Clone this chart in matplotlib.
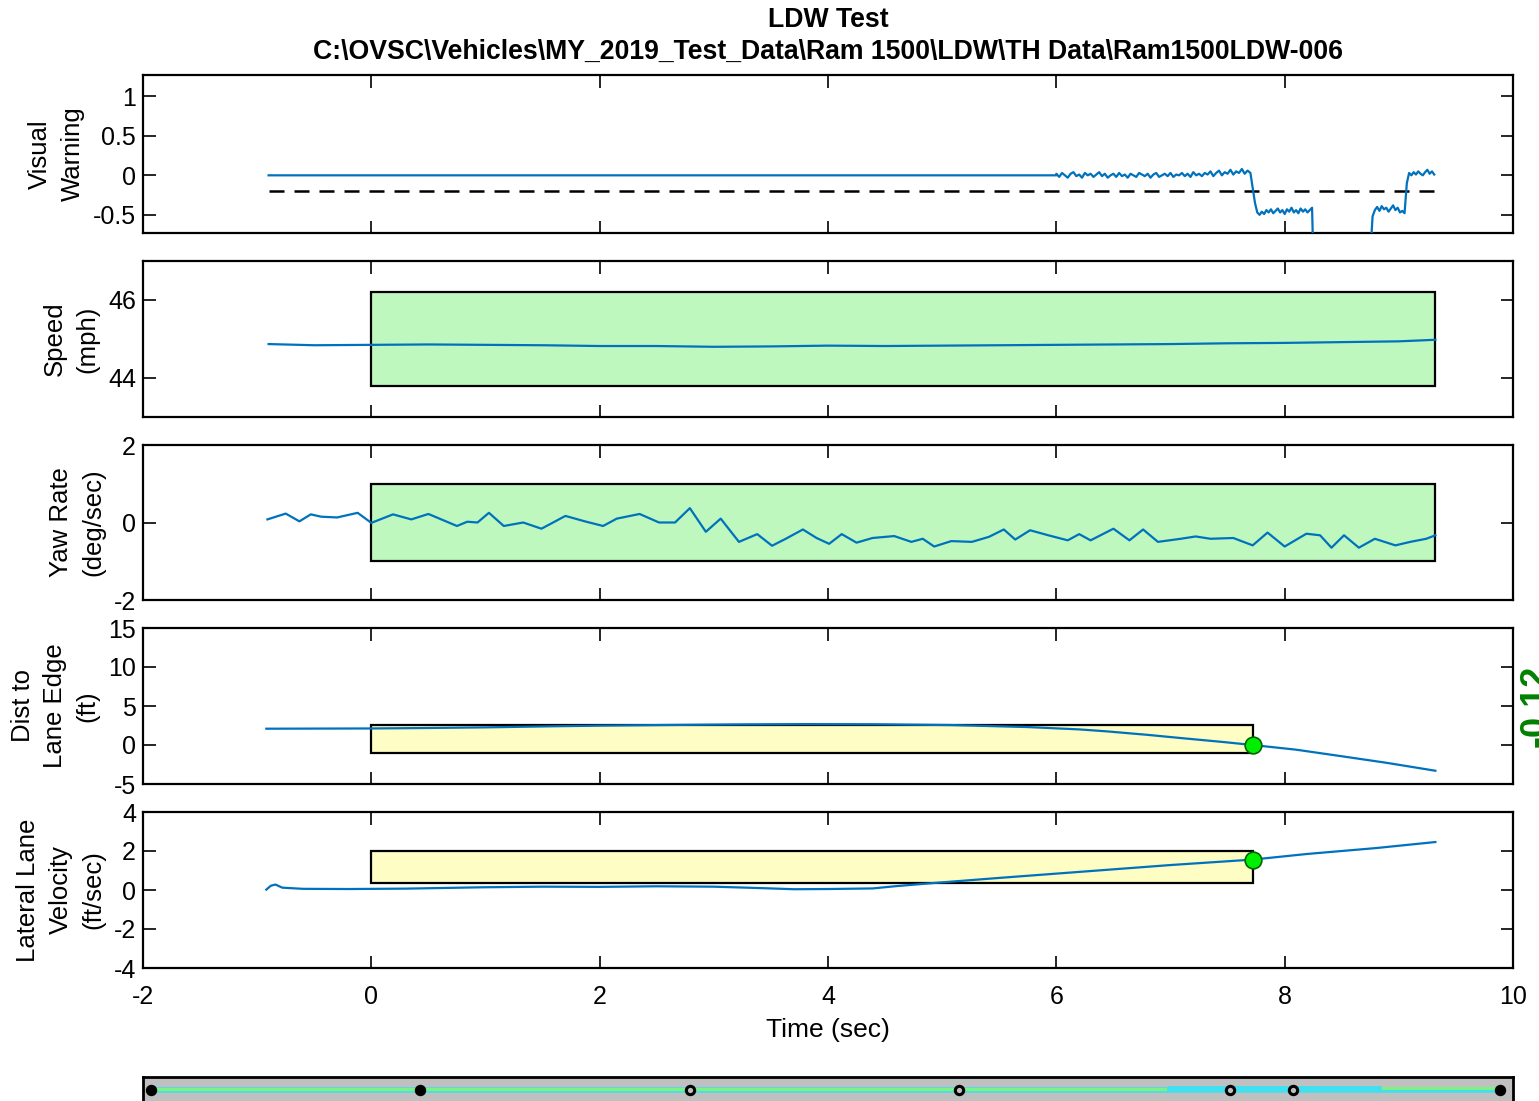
import matplotlib
matplotlib.use("Agg")
import matplotlib.pyplot as plt
from matplotlib.patches import Rectangle

plt.rcParams["font.family"] = ["Liberation Sans", "DejaVu Sans"]

# ---- data ----
title_lines = ["LDW Test",
               "C:\\OVSC\\Vehicles\\MY_2019_Test_Data\\Ram 1500\\LDW\\TH Data\\Ram1500LDW-006"]

# visual warning: flat, then noisy around 0, steps down after the crossing
vw_flat_t = [-0.9, 6.0]
vw_flat_v = [0.0, 0.0]
vw_noise_t = [6.0, 6.025, 6.05, 6.075, 6.1, 6.125, 6.15, 6.175, 6.2, 6.225,
              6.25, 6.275, 6.3, 6.325, 6.35, 6.375, 6.4, 6.425, 6.45, 6.475,
              6.5, 6.525, 6.55, 6.575, 6.6, 6.625, 6.65, 6.675, 6.7, 6.725,
              6.75, 6.775, 6.8, 6.825, 6.85, 6.875, 6.9, 6.925, 6.95, 6.975,
              7.0, 7.025, 7.05, 7.075, 7.1, 7.125, 7.15, 7.175, 7.2, 7.225,
              7.25, 7.275, 7.3, 7.325, 7.35, 7.375, 7.4, 7.425, 7.45, 7.475,
              7.5, 7.525, 7.55, 7.575, 7.6, 7.625, 7.65, 7.675, 7.7]
vw_noise_v = [0.02, -0.02, 0.03, 0.0, -0.03, 0.02, 0.04, -0.01, 0.01, -0.03,
              0.03, 0.0, 0.02, -0.02, 0.01, 0.04, -0.01, 0.02, -0.03, 0.0,
              0.02, -0.02, 0.03, -0.01, 0.01, -0.03, 0.02, 0.0, -0.02, 0.03,
              0.01, -0.01, 0.02, -0.03, 0.01, 0.03, -0.02, 0.0, 0.02, -0.01,
              0.03, -0.02, 0.01, 0.0, 0.03, -0.01, 0.02, -0.02, 0.04, 0.0,
              0.02, -0.01, 0.03, 0.01, 0.05, -0.01, 0.03, 0.06, 0.0, 0.04,
              0.02, 0.07, 0.01, 0.05, 0.03, 0.08, 0.02, 0.06, 0.03]
vw_low1_t = [7.74, 7.76, 7.78, 7.80, 7.82, 7.84, 7.86, 7.88, 7.90, 7.92, 7.94, 7.96, 7.98,
             8.00, 8.02, 8.04, 8.06, 8.08, 8.10, 8.12, 8.14, 8.16, 8.18, 8.20, 8.22, 8.24,
             8.25, 8.75]
vw_low1_v = [-0.35, -0.47, -0.50, -0.46, -0.49, -0.44, -0.47, -0.43, -0.48, -0.45, -0.42,
             -0.47, -0.44, -0.49, -0.43, -0.46, -0.41, -0.47, -0.44, -0.48, -0.42, -0.46,
             -0.43, -0.47, -0.44, -0.41, -1.0, -1.0]
vw_low2_t = [8.77, 8.79, 8.81, 8.83, 8.85, 8.87, 8.89, 8.91, 8.93, 8.95, 8.97, 8.99, 9.01,
             9.03, 9.05]
vw_low2_v = [-0.52, -0.44, -0.40, -0.45, -0.39, -0.43, -0.41, -0.46, -0.42, -0.38, -0.44,
             -0.41, -0.47, -0.45, -0.48]
vw_end_t = [9.07, 9.09, 9.11, 9.13, 9.15, 9.17, 9.19, 9.21, 9.23, 9.25, 9.27, 9.29, 9.31]
vw_end_v = [-0.1, 0.03, 0.0, 0.04, 0.01, 0.05, 0.02, 0.0, 0.04, 0.07, 0.02, 0.05, 0.01]
vw_threshold = -0.2
vw_thr_t = [-0.9, 9.32]

# speed (mph)
speed_t = [-0.9, -0.5, 0.0, 0.5, 1.0, 1.5, 2.0, 2.5, 3.0, 3.5, 4.0, 4.5, 5.0, 5.5, 6.0,
           6.5, 7.0, 7.5, 8.0, 8.5, 9.0, 9.32]
speed_v = [44.87, 44.84, 44.85, 44.86, 44.85, 44.84, 44.82, 44.82, 44.80, 44.81, 44.83,
           44.82, 44.83, 44.84, 44.85, 44.86, 44.87, 44.89, 44.90, 44.92, 44.94, 44.98]
speed_box = [0.0, 9.32, 43.8, 46.2]

# yaw rate (deg/sec)
yaw_t = [-0.91, -0.75, -0.63, -0.53, -0.44, -0.30, -0.21, -0.12, 0.0, 0.19, 0.35, 0.50,
         0.75, 0.84, 0.93, 1.03, 1.16, 1.33, 1.49, 1.70, 1.87, 2.03, 2.15, 2.35, 2.52,
         2.66, 2.79, 2.93, 3.06, 3.22, 3.38, 3.51, 3.63, 3.78, 3.90, 4.01, 4.12, 4.25,
         4.39, 4.58, 4.73, 4.83, 4.93, 5.08, 5.26, 5.41, 5.54, 5.64, 5.77, 5.93, 6.10,
         6.20, 6.30, 6.50, 6.64, 6.76, 6.89, 7.09, 7.22, 7.35, 7.55, 7.72, 7.85, 8.00,
         8.19, 8.31, 8.41, 8.52, 8.65, 8.79, 8.97, 9.10, 9.24, 9.32]
yaw_v = [0.08, 0.23, 0.03, 0.21, 0.15, 0.13, 0.19, 0.25, -0.01, 0.21, 0.08, 0.22,
         -0.09, 0.02, 0.0, 0.25, -0.09, 0.0, -0.16, 0.17, 0.03, -0.09, 0.10, 0.22, 0.0,
         0.0, 0.37, -0.24, 0.10, -0.50, -0.30, -0.60, -0.42, -0.18, -0.40, -0.55, -0.30,
         -0.52, -0.40, -0.35, -0.50, -0.42, -0.62, -0.48, -0.50, -0.37, -0.18, -0.44,
         -0.20, -0.33, -0.46, -0.30, -0.46, -0.16, -0.46, -0.18, -0.50, -0.42, -0.36,
         -0.42, -0.40, -0.59, -0.26, -0.62, -0.29, -0.33, -0.65, -0.33, -0.65, -0.42,
         -0.59, -0.50, -0.42, -0.33]
yaw_box = [0.0, 9.32, -1.0, 1.0]

# distance to lane edge (ft)
dist_t = [-0.92, 0.0, 0.5, 1.0, 1.59, 2.0, 2.55, 3.2, 3.8, 4.4, 5.07, 5.75, 6.2, 6.44,
          6.8, 7.12, 7.45, 7.72, 8.1, 8.48, 8.9, 9.32]
dist_v = [2.09, 2.12, 2.18, 2.26, 2.4, 2.48, 2.56, 2.64, 2.68, 2.66, 2.56, 2.3, 2.0, 1.75,
          1.3, 0.85, 0.4, 0.0, -0.6, -1.4, -2.3, -3.3]
dist_box = [0.0, 7.72, -1.0, 2.55]

# lateral lane velocity (ft/sec)
latv_t = [-0.92, -0.88, -0.84, -0.78, -0.6, -0.2, 0.3, 0.98, 1.5, 2.0, 2.5, 3.0, 3.4,
          3.7, 4.0, 4.39, 4.6, 4.93, 5.5, 6.0, 6.5, 7.0, 7.72, 8.2, 8.8, 9.32]
latv_v = [0.02, 0.22, 0.28, 0.12, 0.06, 0.05, 0.07, 0.14, 0.17, 0.16, 0.19, 0.17, 0.1,
          0.04, 0.05, 0.08, 0.2, 0.36, 0.62, 0.84, 1.06, 1.28, 1.56, 1.85, 2.15, 2.46]
latv_box = [0.0, 7.72, 0.36, 2.0]

# lane crossing point
cross_t = 7.72
cross_dist = 0.0
cross_latv = 1.56

side_value = "-0.12"

# lane strip at the bottom
strip_pts_t = [-1.93, 0.43, 2.79, 5.15, 7.52, 8.07, 9.89]
strip_cyan = [6.97, 8.84]

ylabels = ["Visual\nWarning", "Speed\n(mph)", "Yaw Rate\n(deg/sec)",
           "Dist to\nLane Edge\n(ft)", "Lateral Lane\nVelocity\n(ft/sec)"]
ylims = [(-0.73, 1.27), (43, 47), (-2, 2), (-5, 15), (-4, 4)]
yticks = [[-0.5, 0, 0.5, 1], [44, 46], [-2, 0, 2], [-5, 0, 5, 10, 15], [-4, -2, 0, 2, 4]]
ytick_labels = [["-0.5", "0", "0.5", "1"], ["44", "46"], ["-2", "0", "2"],
                ["-5", "0", "5", "10", "15"], ["-4", "-2", "0", "2", "4"]]

# ---- figure ----
W, H = 1539, 1101
fig = plt.figure(figsize=(W / 100, H / 100), dpi=100)

blue = "#0072BD"
green_face = "#bff8bf"
yellow_face = "#fdfdc4"
panel_px = [(75, 233), (261, 417), (445, 600), (628, 784), (812, 968)]
left, right = 143, 1513

axes = []
for (top, bot) in panel_px:
    ax = fig.add_axes([left / W, 1 - bot / H, (right - left) / W, (bot - top) / H])
    axes.append(ax)

for i, ax in enumerate(axes):
    ax.set_xlim(-2, 10)
    ax.set_ylim(*ylims[i])
    ax.set_xticks(range(-2, 11, 2))
    ax.set_yticks(yticks[i])
    ax.set_yticklabels(ytick_labels[i])
    ax.tick_params(direction="in", length=9, width=1.2, top=True, right=True,
                   labelsize=18, pad=5)
    ax.tick_params(axis="x", pad=12)
    if i < 4:
        ax.tick_params(labelbottom=False)
    for s in ax.spines.values():
        s.set_linewidth(1.6)
    ax.set_ylabel(ylabels[i], fontsize=18.5, labelpad=6, linespacing=1.45)

def box(ax, b, face):
    ax.add_patch(Rectangle((b[0], b[2]), b[1] - b[0], b[3] - b[2], facecolor=face,
                           edgecolor="black", linewidth=1.6, zorder=1))

ax = axes[0]
ax.plot(vw_thr_t, [vw_threshold, vw_threshold], color="black", lw=1.8,
        dashes=(6, 4), zorder=2)
vw_t = vw_flat_t + vw_noise_t + vw_low1_t + vw_low2_t + vw_end_t
vw_v = vw_flat_v + vw_noise_v + vw_low1_v + vw_low2_v + vw_end_v
ax.plot(vw_t, vw_v, color=blue, lw=1.6, zorder=3)

ax = axes[1]
box(ax, speed_box, green_face)
ax.plot(speed_t, speed_v, color=blue, lw=1.6, zorder=3)

ax = axes[2]
box(ax, yaw_box, green_face)
ax.plot(yaw_t, yaw_v, color=blue, lw=1.6, zorder=3)

ax = axes[3]
box(ax, dist_box, yellow_face)
ax.plot(dist_t, dist_v, color=blue, lw=1.6, zorder=3)
ax.plot([cross_t], [cross_dist], "o", ms=12, mfc="#00ee00", mec="#006600", mew=1.2,
        zorder=4, clip_on=False)

ax = axes[4]
box(ax, latv_box, yellow_face)
ax.plot(latv_t, latv_v, color=blue, lw=1.6, zorder=3)
ax.plot([cross_t], [cross_latv], "o", ms=12, mfc="#00ee00", mec="#006600", mew=1.2,
        zorder=4, clip_on=False)
ax.set_xticklabels([str(v) for v in range(-2, 11, 2)])
ax.set_xlabel("Time (sec)", fontsize=19, labelpad=7)

# titles
fig.text(828 / W, 1 - 20 / H, title_lines[0], ha="center", va="center",
         fontsize=19.2, fontweight="bold")
fig.text(828 / W, 1 - 52 / H, title_lines[1], ha="center", va="center",
         fontsize=19.2, fontweight="bold")

# green value on the right edge (partly cut off, as in the reference)
fig.text(1519 / W, 1 - 706 / H, side_value, rotation=90, ha="left", va="center",
         fontsize=26, fontweight="bold", color="#008000")

# lane strip
sax = fig.add_axes([left / W, 1 - 1105 / H, (right - left) / W, 28 / H])
sax.set_facecolor("#c0c0c0")
sax.set_xlim(-2, 10)
sax.set_ylim(0, 1)
sax.set_xticks([])
sax.set_yticks([])
for s in sax.spines.values():
    s.set_linewidth(2)
sax.plot([-1.93, 9.89], [0.53, 0.53], color="#40e0f0", lw=4, solid_capstyle="butt")
sax.plot([-1.93, strip_cyan[0]], [0.57, 0.57], color="#80f080", lw=2.2,
         solid_capstyle="butt")
sax.plot([strip_cyan[1], 9.89], [0.62, 0.62], color="#80f080", lw=2.2,
         solid_capstyle="butt")
sax.plot(strip_cyan, [0.6, 0.6], color="#40e0f0", lw=3.5, solid_capstyle="butt")
for j, t in enumerate(strip_pts_t):
    face = "black" if j in (0, 1, 6) else "#c0c0c0"
    sax.plot([t], [0.55], "o", ms=6, mfc=face, mec="black", mew=2.2, zorder=5)

fig.savefig("out.png", dpi=100)
